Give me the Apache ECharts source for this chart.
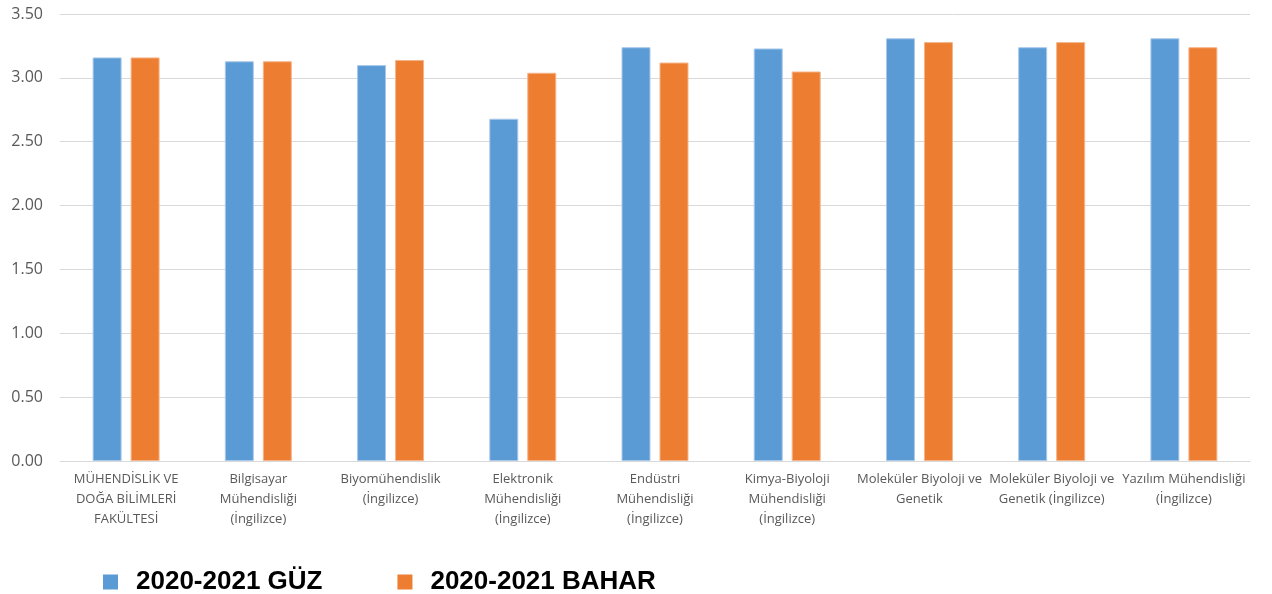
<!DOCTYPE html>
<html>
<head>
<meta charset="utf-8">
<script src="https://cdn.jsdelivr.net/npm/echarts@6/dist/echarts.min.js"></script>
<style>html,body{margin:0;padding:0;background:#fff}#c{width:1272px;height:594px}</style>
</head>
<body>
<div id="c"></div>
<script>
const categories = [
  "MÜHENDİSLİK VE\nDOĞA BİLİMLERİ\nFAKÜLTESİ",
  "Bilgisayar\nMühendisliği\n(İngilizce)",
  "Biyomühendislik\n(İngilizce)",
  "Elektronik\nMühendisliği\n(İngilizce)",
  "Endüstri\nMühendisliği\n(İngilizce)",
  "Kimya-Biyoloji\nMühendisliği\n(İngilizce)",
  "Moleküler Biyoloji ve\nGenetik",
  "Moleküler Biyoloji ve\nGenetik (İngilizce)",
  "Yazılım Mühendisliği\n(İngilizce)"
];
const seriesNames = ["2020-2021 GÜZ", "2020-2021 BAHAR"];
const guz = [3.16, 3.13, 3.10, 2.68, 3.24, 3.23, 3.31, 3.24, 3.31];
const bahar = [3.16, 3.13, 3.14, 3.04, 3.12, 3.05, 3.28, 3.28, 3.24];

const chart = echarts.init(document.getElementById('c'));
chart.setOption({
  animation: false,
  color: ['#5B9BD5', '#ED7D31'],
  grid: { left: 60, right: 22, top: 14, bottom: 133, containLabel: false },
  legend: {
    left: 98, top: 564,
    itemWidth: 15, itemHeight: 15, itemGap: 75,
    icon: 'rect',
    itemStyle: { borderWidth: 0 },
    textStyle: { fontFamily: 'Liberation Sans, Arial', fontWeight: 'bold', fontSize: 26, color: '#000', padding: [0, 0, 0, 13] },
    data: seriesNames
  },
  xAxis: {
    type: 'category',
    data: categories,
    axisLine: { lineStyle: { color: '#d9d9d9', width: 1 } },
    axisTick: { show: false },
    axisLabel: { interval: 0, color: '#595959', fontFamily: 'Open Sans', fontSize: 13, lineHeight: 20, margin: 8 }
  },
  yAxis: {
    type: 'value', min: 0, max: 3.5, interval: 0.5,
    axisLine: { show: false }, axisTick: { show: false },
    splitLine: { lineStyle: { color: '#d9d9d9', width: 1 } },
    axisLabel: { color: '#595959', fontFamily: 'Open Sans', fontSize: 16, margin: 17, formatter: v => v.toFixed(2) }
  },
  series: [
    { name: seriesNames[0], type: 'bar', data: guz, barWidth: 29, barGap: '31%',
      itemStyle: { borderColor: '#a9c9ea', borderWidth: 1 } },
    { name: seriesNames[1], type: 'bar', data: bahar, barWidth: 29, barGap: '31%',
      itemStyle: { borderColor: '#f5b58c', borderWidth: 1 } }
  ]
});
</script>
</body>
</html>
